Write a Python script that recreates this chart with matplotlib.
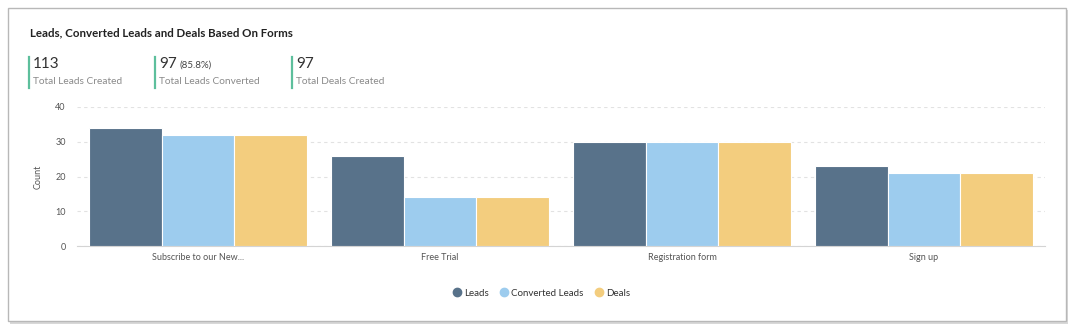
import matplotlib
matplotlib.use('Agg')
import matplotlib.pyplot as plt
from matplotlib.patches import Rectangle
from matplotlib.lines import Line2D
import numpy as np

plt.rcParams['font.family'] = ['Lato', 'DejaVu Sans']

# data
forms = ['Subscribe to our New...', 'Free Trial', 'Registration form', 'Sign up']
leads = [34, 26, 30, 23]
converted = [32, 14, 30, 21]
deals = [32, 14, 30, 21]

series_names = ['Leads', 'Converted Leads', 'Deals']
series_colors = ['#58728a', '#9dccee', '#f3cd7e']

stat_values = ['113', '97', '97']
stat_extra = ['', '(85.8%)', '']
stat_labels = ['Total Leads Created', 'Total Leads Converted', 'Total Deals Created']

W, H = 1072, 328
fig = plt.figure(figsize=(W / 100, H / 100), dpi=100)
fig.patch.set_facecolor('white')

# card with a soft shadow
fig.patches.append(Rectangle((10 / W, 1 - 324 / H), 1058 / W, 314 / H,
                             transform=fig.transFigure, facecolor='#d8d8d8',
                             edgecolor='none', zorder=-2))
fig.patches.append(Rectangle((8 / W, 1 - 321 / H), 1058 / W, 313 / H,
                             transform=fig.transFigure, facecolor='white',
                             edgecolor='#b8b8b8', linewidth=1, zorder=-1))

fig.text(30 / W, 1 - 33 / H, 'Leads, Converted Leads and Deals Based On Forms',
         fontsize=8.3, fontweight='bold', color='#222222', va='center')

# summary stats
stat_x = [29, 155, 292]
for i in range(3):
    x = stat_x[i]
    fig.add_artist(Line2D([x / W, x / W], [1 - 57 / H, 1 - 88 / H],
                          transform=fig.transFigure, color='#5dbf9c', linewidth=1.6))
    t = fig.text((x + 4) / W, 1 - 64 / H, stat_values[i], fontsize=11,
                 color='#333333', va='center')
    if stat_extra[i]:
        fig.canvas.draw()
        bb = t.get_window_extent()
        fig.text((bb.x1 + 3) / W, 1 - 65 / H, stat_extra[i], fontsize=7,
                 color='#444444', va='center')
    fig.text((x + 4) / W, 1 - 81 / H, stat_labels[i], fontsize=7.3,
             color='#8a8a8a', va='center')

ax = fig.add_axes([77 / W, 1 - 246 / H, 968 / W, 139 / H])
ax.set_zorder(2)
ax.set_facecolor('none')
x = np.arange(len(forms))
width = 0.3
all_values = [leads, converted, deals]
for i in range(3):
    ax.bar(x + (i - 1) * width, all_values[i], width, color=series_colors[i],
           edgecolor='white', linewidth=0.8, label=series_names[i], zorder=3)

ax.set_xlim(-0.5, len(forms) - 0.5)
ax.set_ylim(0, 40)
ax.set_yticks([0, 10, 20, 30, 40])
ax.set_xticks(x)
ax.set_xticklabels(forms)
ax.tick_params(axis='both', length=0, labelsize=6.5, colors='#555555')
ax.tick_params(axis='x', pad=5)
ax.tick_params(axis='y', pad=8)
ax.grid(axis='y', color='#e2e2e2', linestyle=(0, (3, 3)), linewidth=0.8, zorder=0)
for s in ['top', 'right', 'left']:
    ax.spines[s].set_visible(False)
ax.spines['bottom'].set_color('#d4d4d4')
ax.set_ylabel('Count', fontsize=6.5, color='#555555', labelpad=9)

handles = [Line2D([], [], marker='o', linestyle='none', markersize=6,
                  markerfacecolor=c, markeredgecolor=c) for c in series_colors]
fig.legend(handles, series_names, loc='center', bbox_to_anchor=(541 / W, 1 - 293 / H),
           ncol=3, frameon=False, fontsize=7, handletextpad=0.2, columnspacing=1.1,
           handlelength=1.0, labelcolor='#333333')

plt.savefig('out.png', dpi=100)
